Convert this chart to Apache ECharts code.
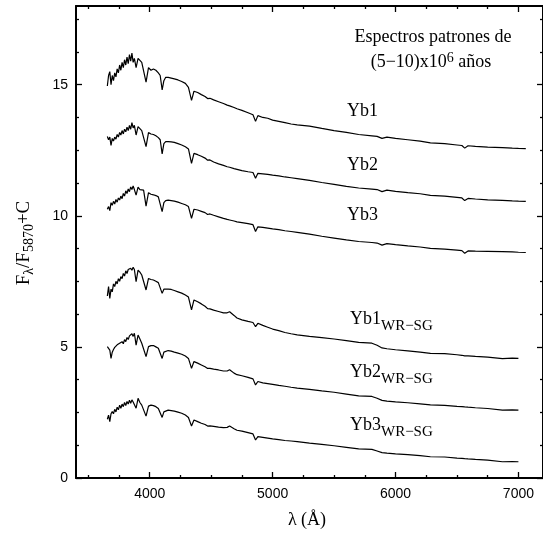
<!DOCTYPE html>
<html><head><meta charset="utf-8">
<script src="https://cdn.jsdelivr.net/npm/echarts@6/dist/echarts.min.js"></script>
<style>html,body{margin:0;padding:0;background:#fff}#chart{width:543px;height:533px}</style>
</head><body><div id="chart"></div>
<script>
// Wavelength grid (Å)
const wavelength = [3655,3665,3675,3685,3695,3705,3715,3725,3735,3745,
  3755,3765,3775,3785,3795,3805,3815,3825,3835,3845,
  3855,3865,3875,3889,3905,3920,3935,3950,3970,3990,
  4010,4030,4050,4070,4085,4101,4115,4130,4150,4175,
  4200,4230,4260,4290,4315,4340,4360,4390,4420,4450,
  4471,4490,4520,4560,4600,4630,4650,4686,4710,4750,
  4800,4840,4861,4880,4920,4960,5000,5050,5100,5150,
  5200,5300,5400,5500,5600,5700,5808,5850,5890,5930,
  6000,6100,6200,6284,6400,6500,6540,6563,6590,6650,
  6750,6870,6950,7000,7060];

const yb1 = [14.95,15.35,15.5,15.0,15.35,15.15,15.45,15.3,15.6,15.45,
  15.75,15.55,15.85,15.65,15.95,15.75,16.05,15.8,16.15,15.9,
  16.2,15.85,16.0,15.65,16.0,15.95,15.85,15.9,15.1,15.65,
  15.55,15.6,15.55,15.45,15.35,14.8,15.15,15.28,15.28,15.25,
  15.22,15.18,15.12,15.05,14.9,14.4,14.75,14.7,14.62,14.55,
  14.47,14.48,14.42,14.35,14.28,14.22,14.19,14.13,14.08,14.02,
  13.93,13.85,13.6,13.82,13.75,13.72,13.65,13.6,13.55,13.5,
  13.47,13.42,13.33,13.25,13.18,13.1,13.05,13.03,12.95,13.0,
  12.95,12.9,12.85,12.78,12.75,12.7,12.68,12.58,12.67,12.65,
  12.62,12.6,12.58,12.57,12.56];

const yb2 = [13.02,12.9,13.0,12.68,12.95,12.85,13.0,12.92,13.1,13.0,
  13.18,13.08,13.25,13.12,13.3,13.2,13.38,13.25,13.45,13.3,
  13.55,13.35,13.45,13.08,13.4,13.35,13.25,13.3,12.64,13.17,
  13.12,13.1,13.05,12.98,12.9,12.36,12.75,12.83,12.83,12.82,
  12.8,12.75,12.7,12.63,12.55,12.0,12.38,12.33,12.27,12.2,
  12.12,12.13,12.05,11.98,11.92,11.87,11.85,11.8,11.77,11.72,
  11.68,11.65,11.43,11.62,11.6,11.58,11.55,11.52,11.48,11.45,
  11.42,11.35,11.27,11.2,11.12,11.06,11.02,11.0,10.92,10.98,
  10.93,10.88,10.84,10.78,10.75,10.7,10.68,10.58,10.66,10.64,
  10.61,10.59,10.57,10.56,10.55];

const yb3 = [10.25,10.35,10.2,10.5,10.4,10.55,10.45,10.62,10.52,10.68,
  10.6,10.75,10.65,10.85,10.75,10.95,10.85,11.02,10.92,11.1,
  11.0,11.14,11.0,10.79,11.09,11.0,10.95,10.98,10.37,10.88,
  10.82,10.8,10.77,10.72,10.65,10.16,10.5,10.58,10.6,10.58,
  10.56,10.52,10.47,10.42,10.35,9.9,10.25,10.22,10.17,10.12,
  10.05,10.07,10.02,9.96,9.9,9.86,9.84,9.8,9.77,9.74,
  9.7,9.66,9.4,9.58,9.56,9.53,9.5,9.47,9.43,9.4,
  9.37,9.3,9.22,9.15,9.08,9.02,8.98,8.96,8.88,8.94,
  8.9,8.85,8.81,8.76,8.73,8.69,8.67,8.57,8.66,8.65,
  8.64,8.63,8.62,8.61,8.6];

const yb1WR = [6.94,7.3,6.85,7.2,7.1,7.4,7.3,7.5,7.4,7.6,
  7.5,7.68,7.6,7.8,7.7,7.9,7.8,7.95,7.88,8.0,
  7.92,8.04,7.95,7.49,7.93,7.85,7.74,7.8,7.17,7.61,
  7.57,7.55,7.5,7.45,7.38,7.04,7.2,7.23,7.2,7.19,
  7.15,7.1,7.05,6.98,6.9,6.41,6.79,6.72,6.64,6.55,
  6.46,6.45,6.4,6.35,6.3,6.3,6.34,6.2,6.1,6.03,
  5.97,5.93,5.77,5.9,5.82,5.75,5.68,5.62,5.55,5.5,
  5.46,5.4,5.35,5.3,5.24,5.17,5.14,5.06,4.96,4.93,
  4.89,4.85,4.8,4.75,4.74,4.7,4.68,4.66,4.66,4.64,
  4.61,4.55,4.57,4.56,null];

const yb2WR = [5.01,4.95,4.88,4.56,4.8,4.9,4.98,4.92,5.08,5.02,
  5.14,5.08,5.2,5.12,5.28,5.2,5.36,5.28,5.42,5.35,
  5.5,5.4,5.52,5.07,5.45,5.3,5.14,5.2,4.63,5.01,
  5.05,5.05,5.0,4.95,4.9,4.56,4.8,4.82,4.86,4.84,
  4.8,4.76,4.72,4.65,4.56,4.18,4.44,4.38,4.31,4.24,
  4.18,4.18,4.15,4.12,4.08,4.08,4.13,4.0,3.94,3.9,
  3.84,3.78,3.55,3.68,3.63,3.6,3.57,3.53,3.5,3.46,
  3.43,3.38,3.32,3.27,3.2,3.13,3.11,3.04,2.96,2.93,
  2.9,2.87,2.83,2.79,2.77,2.73,2.72,2.71,2.7,2.68,
  2.65,2.59,2.6,2.59,null];

const yb3WR = [2.24,2.4,2.15,2.45,2.53,2.45,2.62,2.52,2.7,2.6,
  2.78,2.66,2.82,2.72,2.88,2.76,2.92,2.82,2.97,2.85,
  2.98,2.9,2.92,2.66,3.04,2.88,2.78,2.82,2.36,2.74,
  2.78,2.76,2.72,2.65,2.58,2.31,2.52,2.57,2.59,2.57,
  2.55,2.51,2.47,2.4,2.31,1.98,2.21,2.15,2.09,2.04,
  1.98,1.99,1.97,1.94,1.92,1.93,1.98,1.88,1.82,1.79,
  1.73,1.68,1.45,1.58,1.55,1.52,1.49,1.46,1.43,1.41,
  1.39,1.33,1.28,1.23,1.17,1.11,1.09,1.03,0.97,0.95,
  0.92,0.89,0.85,0.81,0.8,0.76,0.75,0.74,0.73,0.71,
  0.68,0.62,0.63,0.62,null];

const xMajorTicks = [4000,5000,6000,7000];
const xMinorTicks = [3500,3750,4250,4500,4750,5250,5500,5750,6250,6500,6750];
const yMajorTicks = [0,5,10,15];
const yMinorTicks = [1.25,2.5,3.75,6.25,7.5,8.75,11.25,12.5,13.75,16.25,17.5];

const seriesList = [
  {name:'Yb1', sub:'', values:yb1},
  {name:'Yb2', sub:'', values:yb2},
  {name:'Yb3', sub:'', values:yb3},
  {name:'Yb1', sub:'WR\u2212SG', values:yb1WR},
  {name:'Yb2', sub:'WR\u2212SG', values:yb2WR},
  {name:'Yb3', sub:'WR\u2212SG', values:yb3WR}
];
const titleLine1 = 'Espectros patrones de';
const titleLine2 = ['(5\u221210)x10', '6', ' a\u00f1os'];

// ---------- layout / styling ----------
const SERIF = '"Liberation Serif", "Times New Roman", serif';
const SANS = '"Liberation Sans", Arial, sans-serif';
const ctx = document.createElement('canvas').getContext('2d');
function tw(t, size){ ctx.font = size + 'px ' + SERIF; return ctx.measureText(t).width; }
function textRun(parts, x0, baseline, anchor){
  const w = parts.map(p => tw(p.t, p.size));
  const total = w.reduce((a,b)=>a+b,0);
  let x = anchor === 'center' ? x0 - total/2 : x0;
  return parts.map((p,i) => {
    const el = {type:'text', x: x, y: baseline + (p.dy||0) - 0.305*p.size, silent:true,
      style:{text:p.t, font: p.size + 'px ' + SERIF, fill:'#000', align:'left', verticalAlign:'middle'}};
    x += w[i];
    return el;
  });
}

const X_MIN = 3400, X_MAX = 7200;
const fmt = v => String(v);
function xAxisDef(position, ticks, len, showLine, showLabel){
  return {type:'value', min:X_MIN, max:X_MAX, position:position,
    axisLine:{show:showLine, onZero:false, lineStyle:{color:'#000', width:2}},
    axisTick:{show:true, inside:true, length:len, customValues:ticks, lineStyle:{color:'#000', width:1.3}},
    axisLabel:{show:showLabel, customValues:ticks, formatter:fmt, margin:9, fontSize:14, fontFamily:SANS, color:'#000'},
    splitLine:{show:false}};
}
function yAxisDef(position, ticks, len, showLine, showLabel){
  return {type:'value', min:0, max:18, position:position,
    axisLine:{show:showLine, onZero:false, lineStyle:{color:'#000', width:2}},
    axisTick:{show:true, inside:true, length:len, customValues:ticks, lineStyle:{color:'#000', width:1.3}},
    axisLabel:{show:showLabel, customValues:ticks, formatter:fmt, margin:8, fontSize:14, fontFamily:SANS, color:'#000'},
    splitLine:{show:false}};
}

const labelPos = [[347,117],[347,171],[347,221],[350,325],[350,378],[350,431]];
const graphics = [];
graphics.push(...textRun([{t:titleLine1,size:18}], 433, 43, 'center'));
graphics.push(...textRun([{t:titleLine2[0],size:18},{t:titleLine2[1],size:14,dy:-5},{t:titleLine2[2],size:18}], 431, 68, 'center'));
seriesList.forEach((s,i) => {
  const parts = [{t:s.name,size:18}];
  if (s.sub) parts.push({t:s.sub,size:15,dy:6});
  graphics.push(...textRun(parts, labelPos[i][0], labelPos[i][1], 'left'));
});
graphics.push({type:'group', x:30, y:243, rotation:Math.PI/2,
  children: textRun([{t:'F',size:19},{t:'\u03bb',size:14,dy:4},{t:'/F',size:19},{t:'5870',size:14,dy:4},{t:'+C',size:19}], 0, 0, 'center')});
graphics.push(...textRun([{t:'\u03bb (\u00c5)',size:18}], 307, 526, 'center'));

const chart = echarts.init(document.getElementById('chart'), null, {renderer:'canvas'});
chart.setOption({
  animation:false,
  backgroundColor:'#fff',
  grid:{left:76, top:6, width:471, height:472, containLabel:false},
  xAxis:[
    xAxisDef('bottom', xMajorTicks, 6, true, true),
    xAxisDef('bottom', xMinorTicks, 3, false, false),
    xAxisDef('top', xMajorTicks, 6, true, false),
    xAxisDef('top', xMinorTicks, 3, false, false)
  ],
  yAxis:[
    yAxisDef('left', yMajorTicks, 6, true, true),
    yAxisDef('left', yMinorTicks, 3, false, false),
    yAxisDef('right', yMajorTicks, 6, true, false),
    yAxisDef('right', yMinorTicks, 3, false, false)
  ],
  series: seriesList.map(s => ({
    type:'line', name: s.name + s.sub, xAxisIndex:0, yAxisIndex:0,
    showSymbol:false, symbol:'none', connectNulls:false,
    lineStyle:{color:'#000', width:1.2}, silent:true,
    data: wavelength.map((w,i) => [w, s.values[i]])
  })),
  graphic: graphics
});
</script></body></html>
